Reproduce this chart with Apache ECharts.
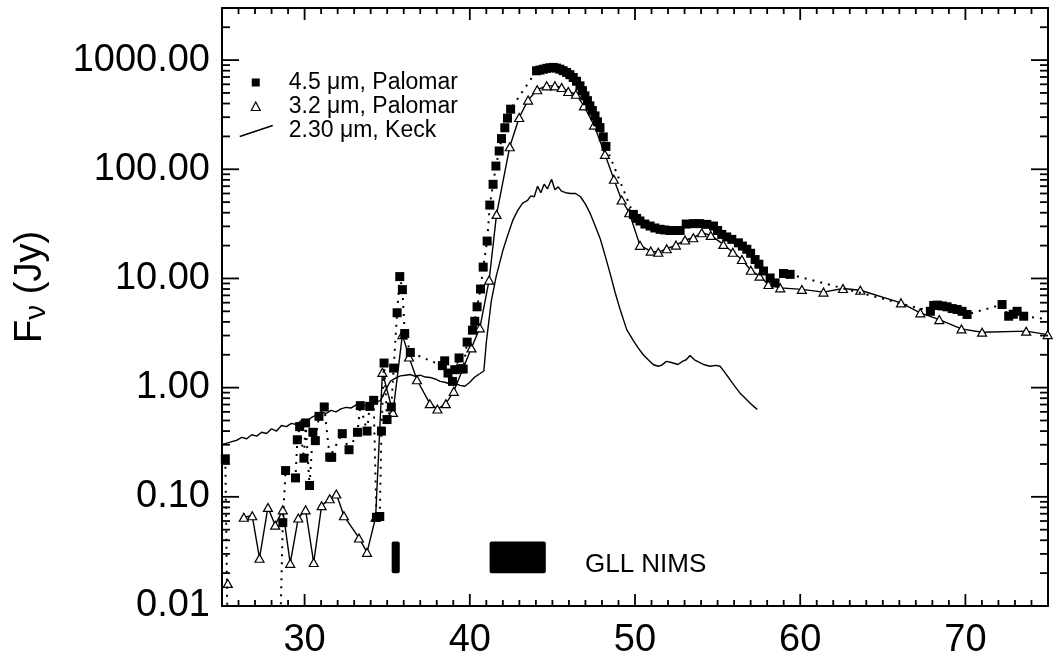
<!DOCTYPE html>
<html>
<head>
<meta charset="utf-8">
<script src="https://cdn.jsdelivr.net/npm/echarts@6/dist/echarts.min.js"></script>
<style>
  html, body { margin: 0; background: #fff; }
  #chart { width: 1056px; height: 665px; background: #fff; }
</style>
</head>
<body>
<div id="chart"></div>
<script>
// series names
const p45Name = '4.5 μm, Palomar'
const p32Name = '3.2 μm, Palomar'
const keckName = '2.30 μm, Keck'

// 4.5 um Palomar (filled squares, dotted); values below 0.01 run off the bottom
const p45X = [25.2, 25.35, 28.5, 28.68, 28.85, 29.45, 29.56, 29.7, 29.96, 30.06, 30.3, 30.5, 30.65, 30.87, 31.19, 31.52, 31.64, 32.28, 32.69, 33.2, 33.37, 33.78,
  33.94, 34.18, 34.35, 34.55, 34.65, 34.81, 34.99, 35.25, 35.39, 35.6, 35.76, 35.92, 36.06, 36.4, 38.34, 38.48, 38.68, 38.95, 39.09, 39.35,
  39.44, 39.6, 39.84, 40.16, 40.3, 40.44, 40.65, 40.81, 41.05, 41.21, 41.41, 41.58, 41.78, 41.92, 42.12, 42.28, 42.47, 44.04, 44.24, 44.45,
  44.65, 44.85, 45.05, 45.25, 45.45, 45.65, 45.86, 46.06, 46.26, 46.46, 46.67, 46.82, 46.97, 47.12, 47.27, 47.42, 47.58, 47.73, 47.88, 48.08,
  48.24, 49.9, 50.1, 50.3, 50.6, 50.91, 51.2, 51.52, 51.8, 52.12, 52.42, 52.73, 53.1, 53.53, 53.9, 54.35, 54.75, 55.0, 55.25, 55.55,
  55.86, 56.26, 56.5, 56.77, 57.0, 57.27, 57.5, 57.78, 58.18, 58.48, 58.99, 59.39, 67.88, 68.08, 68.3, 68.6, 68.89, 69.2, 69.5, 69.8,
  70.1, 72.22, 72.62, 72.9, 73.13, 73.53, 75.4]
const p45Y = [0.223, 0.004, 0.004, 0.058, 0.174, 0.149, 0.333, 0.44, 0.226, 0.475, 0.127, 0.39, 0.327, 0.546, 0.665, 0.231, 0.23, 0.379, 0.27, 0.39, 0.684, 0.40,
  0.674, 0.765, 0.065, 0.066, 0.40, 1.68, 0.51, 0.665, 1.51, 4.85, 10.4, 7.9, 3.13, 2.1, 1.59, 1.76, 1.36, 1.14, 1.46, 1.87,
  1.49, 1.48, 2.61, 3.36, 4.05, 5.5, 8.0, 12.7, 22, 47, 72.8, 107, 147, 191, 240, 294, 355, 798, 810, 825,
  840, 850, 857, 845, 826, 800, 771, 735, 693, 640, 581, 525, 470, 425, 381, 345, 308, 272, 241, 198,
  162, 38.6, 35.5, 33.6, 31.5, 30.2, 29, 28.2, 27.8, 27.5, 27.5, 27.5, 31.5, 31.8, 31.8, 31.3, 30.2, 27.5, 25.3, 24,
  22.8, 21.2, 19.8, 18.5, 17, 14.9, 13.5, 11.7, 10.1, 9.1, 11.1, 10.9, 5.0, 5.65, 5.7, 5.6, 5.5, 5.3, 5.2, 5.0,
  4.68, 5.77, 4.51, 4.7, 5.0, 4.51, 4.15]

// 3.2 um Palomar (open triangles, solid)
const p32X = [25.35, 25.8, 26.32, 26.83, 27.27, 27.78, 28.22, 28.68, 29.13, 29.62, 30.06, 30.55, 31.03, 31.52, 31.92, 32.38, 33.29, 33.78, 34.3, 34.71,
  35.35, 35.92, 36.32, 36.8, 37.58, 38.04, 38.55, 39.03, 40.1, 40.61, 41.17, 41.62, 42.42, 42.99, 43.53, 44.08, 44.65, 45.15, 45.56, 45.96,
  46.42, 46.91, 47.52, 48.18, 48.72, 49.19, 49.65, 50.3, 50.95, 51.41, 51.92, 52.48, 53.03, 53.53, 54.04, 54.59, 55.35, 55.92, 56.47, 57.01,
  57.54, 58.08, 58.79, 60.1, 61.41, 62.59, 63.64, 66.1, 67.27, 68.42, 69.76, 71.01, 73.68, 74.98]
const p32Y = [0.0161, null, 0.065, 0.067, 0.0274, 0.080, 0.055, 0.076, 0.0246, 0.064, 0.076, 0.025, 0.083, 0.096, 0.106, 0.067, 0.042, 0.031, 0.065, 1.38,
  0.593, 3.06, 1.91, 1.18, 0.713, 0.637, 0.713, 0.925, 2.31, 3.53, 9.66, 38.6, 161, 298, 430, 535, 581, 581, 561, 516,
  487, 381, 254, 137, 81, 52.3, 40, 20.1, 17.8, 17.4, 18.7, 20.2, 22.5, 23.6, 26.2, 24.8, 20.5, 17.4, 14.9, 11.9,
  10.5, 8.8, 8.2, 7.94, 7.5, 8.1, 7.8, 5.98, 4.84, 4.2, 3.45, 3.22, 3.29, 3.06]

// 2.30 um Keck (solid line)
const keckX = [25.0, 25.3, 25.6, 25.9, 26.2, 26.5, 26.8, 27.1, 27.4, 27.7, 28.0, 28.3, 28.6, 28.9, 29.2, 29.5, 29.8, 30.1, 30.4, 30.7,
  31.0, 31.3, 31.6, 31.9, 32.2, 32.5, 32.8, 33.1, 33.4, 33.7, 34.0, 34.3, 34.6, 34.9, 35.2, 35.5, 35.8, 36.1, 36.4, 36.7,
  37.0, 37.3, 37.6, 37.9, 38.2, 38.5, 38.8, 39.1, 39.4, 39.7, 40.0, 40.3, 40.6, 40.85, 41.0, 41.3, 41.6, 42.0, 42.3, 42.6,
  42.9, 43.2, 43.5, 43.7, 43.9, 44.1, 44.3, 44.5, 44.7, 44.95, 45.15, 45.35, 45.55, 45.8, 46.1, 46.4, 46.7, 47.0, 47.3, 47.6,
  47.9, 48.2, 48.5, 48.8, 49.1, 49.5, 49.9, 50.2, 50.5, 50.8, 51.1, 51.4, 51.6, 51.9, 52.2, 52.6, 52.9, 53.1, 53.33, 53.6,
  53.9, 54.2, 54.55, 54.9, 55.15, 55.4, 55.76, 56.0, 56.36, 56.6, 56.97, 57.2, 57.4]
const keckY = [0.30, 0.31, 0.32, 0.33, 0.35, 0.34, 0.37, 0.36, 0.39, 0.38, 0.42, 0.40, 0.45, 0.44, 0.47, 0.46, 0.50, 0.49, 0.53, 0.56,
  0.60, 0.58, 0.62, 0.60, 0.64, 0.66, 0.65, 0.69, 0.70, 0.68, 0.72, 0.74, 0.76, 0.95, 1.15, 1.22, 1.28, 1.30, 1.32, 1.27,
  1.30, 1.25, 1.24, 1.20, 1.14, 1.12, 1.08, 1.10, 1.05, 1.03, 1.12, 1.25, 1.34, 1.42, 2.6, 6.2, 10.5, 18, 25, 34,
  42, 49, 52, 57, 56, 70, 61, 73, 66, 81, 65, 69, 63, 61, 60, 60, 56, 48, 39, 30,
  23, 16, 11, 7.4, 5.2, 3.4, 2.7, 2.3, 2.0, 1.8, 1.63, 1.57, 1.60, 1.74, 1.70, 1.63, 1.75, 1.80, 1.97, 1.80,
  1.70, 1.62, 1.57, 1.60, 1.57, 1.40, 1.18, 1.05, 0.89, 0.82, 0.72, 0.67, 0.63]

// GLL NIMS coverage bands
const nimsStart = [35.27, 41.2]
const nimsEnd = [35.76, 44.6]
const nimsLow = 0.020
const nimsHigh = 0.039
const nimsText = 'GLL NIMS'

// axis range and ticks
const X_MIN = 25, X_MAX = 75
const Y_MIN = 0.01, Y_MAX = 3000
const xMajor = [30, 40, 50, 60, 70]
const xMinor = []
for (let v = X_MIN; v <= X_MAX; v++) if (!xMajor.includes(v)) xMinor.push(v)
const yDecades = [0.01, 0.1, 1, 10, 100, 1000]
const yMinor = []
yDecades.forEach(d => {
  for (let k = 2; k <= 9; k++) {
    const v = +(d * k).toPrecision(3)
    if (v <= Y_MAX) yMinor.push(v)
  }
})

const FONT = '"Liberation Sans", Arial, Helvetica, sans-serif'
const TICK_W = 1.8
const zip = (xs, ys) => xs.map((x, i) => [x, ys[i]])

const frame = () => ({ show: true, onZero: false, lineStyle: { color: '#000', width: 2 } })

// inward tick marks as thin bars, placed through the axis scales;
// only x and y are in the data, the length stays in the closure
const xTicks = (values, len) => ({
  type: 'custom', xAxisIndex: 0, yAxisIndex: 0, z: 6, silent: true,
  data: values.map(v => [v, Y_MIN]),
  encode: { x: 0, y: 1 },
  renderItem: (params, api) => {
    const b = api.coord([api.value(0), Y_MIN])
    const t = api.coord([api.value(0), Y_MAX])
    return {
      type: 'group', children: [
        { type: 'rect', shape: { x: b[0] - TICK_W / 2, y: b[1] - len, width: TICK_W, height: len }, style: { fill: '#000' } },
        { type: 'rect', shape: { x: t[0] - TICK_W / 2, y: t[1], width: TICK_W, height: len }, style: { fill: '#000' } }
      ]
    }
  }
})
const yTicks = (values, len) => ({
  type: 'custom', xAxisIndex: 0, yAxisIndex: 0, z: 6, silent: true,
  data: values.map(v => [X_MIN, v]),
  encode: { x: 0, y: 1 },
  renderItem: (params, api) => {
    const l = api.coord([X_MIN, api.value(1)])
    const r = api.coord([X_MAX, api.value(1)])
    return {
      type: 'group', children: [
        { type: 'rect', shape: { x: l[0], y: l[1] - TICK_W / 2, width: len, height: TICK_W }, style: { fill: '#000' } },
        { type: 'rect', shape: { x: r[0] - len, y: r[1] - TICK_W / 2, width: len, height: TICK_W }, style: { fill: '#000' } }
      ]
    }
  }
})

const chart = echarts.init(document.getElementById('chart'))

const option = {
  animation: false,
  grid: { left: 222, right: 8, top: 8, bottom: 59, outerBoundsMode: 'none' },
  legend: {
    orient: 'vertical', left: 238, top: 71, padding: 0, itemGap: 1,
    itemWidth: 45, itemHeight: 14, selectedMode: false,
    textStyle: { fontSize: 23, fontFamily: FONT, color: '#000', lineHeight: 23 },
    data: [
      { name: p45Name, icon: 'path://M0,0M45,14M13,3H21V11H13Z', itemStyle: { color: '#000', borderWidth: 0 } },
      { name: p32Name, icon: 'path://M0,0M45,14M17,2.5L21.5,11H12.5Z', itemStyle: { color: '#fff', borderColor: '#000', borderWidth: 1.2 } },
      { name: keckName, icon: 'path://M0,0M45,14M1,13L34,2', itemStyle: { color: 'rgba(0,0,0,0)', borderColor: '#000', borderWidth: 1.5 } }
    ]
  },
  xAxis: [
    {
      type: 'value', position: 'bottom', min: X_MIN, max: X_MAX,
      axisLine: frame(), axisTick: { show: false }, splitLine: { show: false },
      axisLabel: { customValues: xMajor, fontSize: 38, fontFamily: FONT, color: '#000', margin: 16 }
    },
    {
      type: 'value', position: 'top', min: X_MIN, max: X_MAX,
      axisLine: frame(), axisTick: { show: false }, axisLabel: { show: false }, splitLine: { show: false }
    }
  ],
  yAxis: [
    {
      type: 'log', logBase: 10, position: 'left', min: Y_MIN, max: Y_MAX,
      axisLine: frame(), axisTick: { show: false }, splitLine: { show: false },
      axisLabel: {
        customValues: yDecades, fontSize: 38, fontFamily: FONT, color: '#000', margin: 12,
        formatter: v => v.toFixed(2)
      },
      name: 'F{s|ν} (Jy)',
      nameLocation: 'middle',
      nameGap: 170,
      nameTextStyle: {
        fontSize: 38, fontFamily: FONT, color: '#000', padding: [0, 0, 0, 40],
        rich: { s: { fontSize: 30, fontFamily: FONT, color: '#000', padding: [12, 0, 0, 0] } }
      }
    },
    {
      type: 'log', logBase: 10, position: 'right', min: Y_MIN, max: Y_MAX,
      axisLine: frame(), axisTick: { show: false }, axisLabel: { show: false }, splitLine: { show: false }
    }
  ],
  series: [
    xTicks(xMajor, 12),
    xTicks(xMinor, 6),
    yTicks(yDecades, 17),
    yTicks(yMinor, 8),
    {
      name: keckName, type: 'line', xAxisIndex: 0, yAxisIndex: 0,
      data: zip(keckX, keckY), symbol: 'none', showSymbol: false,
      lineStyle: { color: '#000', width: 1.4 }, itemStyle: { color: '#000' }, z: 2
    },
    {
      name: p32Name, type: 'line', xAxisIndex: 0, yAxisIndex: 0,
      data: zip(p32X, p32Y), symbol: 'triangle', symbolSize: [9, 8],
      itemStyle: { color: '#fff', borderColor: '#000', borderWidth: 1.2 },
      lineStyle: { color: '#000', width: 1.4 }, z: 3
    },
    {
      name: p45Name, type: 'line', xAxisIndex: 0, yAxisIndex: 0,
      data: zip(p45X, p45Y), symbol: 'rect', symbolSize: 9,
      itemStyle: { color: '#000' },
      lineStyle: { color: '#000', width: 2, type: [2, 6] }, z: 4
    },
    {
      // GLL NIMS bands
      type: 'custom', xAxisIndex: 0, yAxisIndex: 0, z: 5,
      data: nimsStart.map((s, i) => [s, nimsEnd[i], nimsLow, nimsHigh]),
      encode: { x: [0, 1], y: [2, 3] },
      renderItem: (params, api) => {
        const a = api.coord([api.value(0), api.value(3)])
        const b = api.coord([api.value(1), api.value(2)])
        return {
          type: 'rect',
          shape: { x: a[0], y: a[1], width: b[0] - a[0], height: b[1] - a[1], r: 2 },
          style: { fill: '#000' }
        }
      }
    },
    {
      // GLL NIMS caption
      type: 'custom', xAxisIndex: 0, yAxisIndex: 0, z: 5,
      data: [[46.97, 0.0238]],
      encode: { x: 0, y: 1 },
      renderItem: (params, api) => {
        const p = api.coord([api.value(0), api.value(1)])
        return {
          type: 'text', x: p[0], y: p[1],
          style: { text: nimsText, fontSize: 26, fontFamily: FONT, fill: '#000', align: 'left', verticalAlign: 'middle' }
        }
      }
    }
  ]
}

chart.setOption(option)
</script>
</body>
</html>
